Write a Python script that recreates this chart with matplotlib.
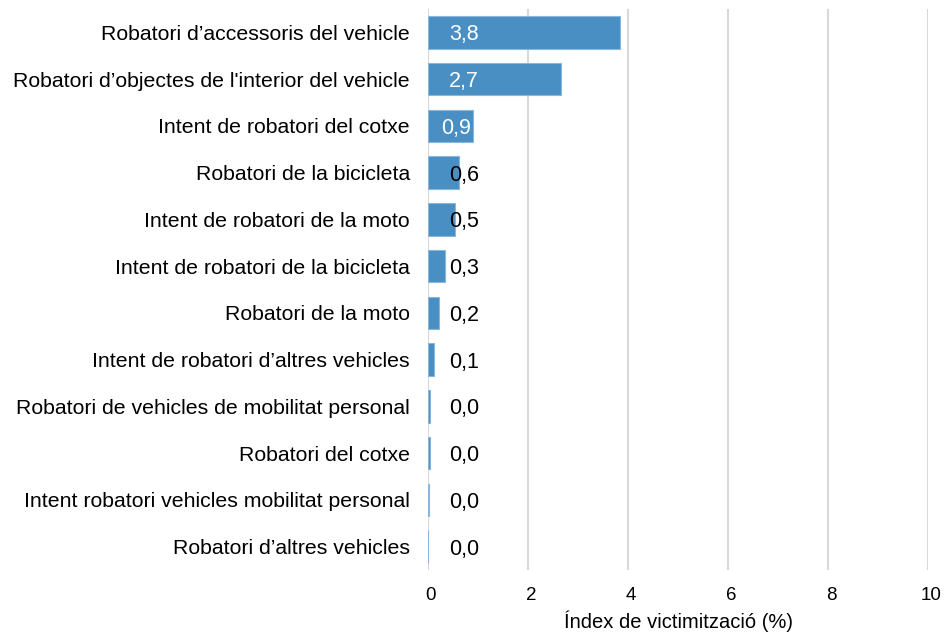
import matplotlib
matplotlib.use("Agg")
import matplotlib.pyplot as plt
from matplotlib.transforms import ScaledTranslation

plt.rcParams['font.family'] = ['Liberation Sans', 'DejaVu Sans']

categories = [
    "Robatori d\u2019accessoris del vehicle",
    "Robatori d\u2019objectes de l'interior del vehicle",
    "Intent de robatori del cotxe",
    "Robatori de la bicicleta",
    "Intent de robatori de la moto",
    "Intent de robatori de la bicicleta",
    "Robatori de la moto",
    "Intent de robatori d\u2019altres vehicles",
    "Robatori de vehicles de mobilitat personal",
    "Robatori del cotxe",
    "Intent robatori vehicles mobilitat personal",
    "Robatori d\u2019altres vehicles",
]
values = [3.83, 2.66, 0.89, 0.61, 0.53, 0.34, 0.21, 0.11, 0.04, 0.04, 0.02, 0.0]
xticks = [0, 2, 4, 6, 8, 10]

fig = plt.figure(figsize=(9.44, 6.32), dpi=100)
ax = fig.add_axes([428 / 944, 1 - 570 / 632, (928 - 428) / 944, (570 - 9) / 632])

y = list(range(len(categories)))
ax.barh(y, values, height=0.69, color='#4a8fc3', edgecolor='#8ab6dc', linewidth=0.8, zorder=3)

for i, v in enumerate(values):
    label = f"{v:.1f}".replace('.', ',')
    if v > 2:
        ax.text(0.42, i, label, color='white', fontsize=15.5, va='center_baseline', ha='left', zorder=4)
    elif v > 0.8:
        ax.text(v - 0.04, i, label, color='white', fontsize=15.5, va='center_baseline', ha='right', zorder=4)
    else:
        ax.text(0.42, i, label, color='black', fontsize=15.5, va='center_baseline', ha='left', zorder=4)

ax.set_xlim(0, 10)
ax.set_ylim(len(categories) - 0.5, -0.5)
ax.set_xticks(xticks)
ax.set_xticklabels([str(t) for t in xticks], fontsize=13.5)
ax.set_yticks(y)
ax.set_yticklabels(categories, fontsize=15.3)
ax.tick_params(axis='both', length=0)
ax.tick_params(axis='y', pad=13)
ax.tick_params(axis='x', pad=12)
ax.grid(axis='x', color='#d9d9d9', linewidth=1.5, zorder=0)
for s in ax.spines.values():
    s.set_visible(False)
shift = ScaledTranslation(3 / 100, 0, fig.dpi_scale_trans)
for lbl in ax.get_xticklabels():
    lbl.set_transform(lbl.get_transform() + shift)
ax.set_xlabel("\u00cdndex de victimitzaci\u00f3 (%)", fontsize=14.5, labelpad=5)

fig.savefig("out.png", dpi=100)
